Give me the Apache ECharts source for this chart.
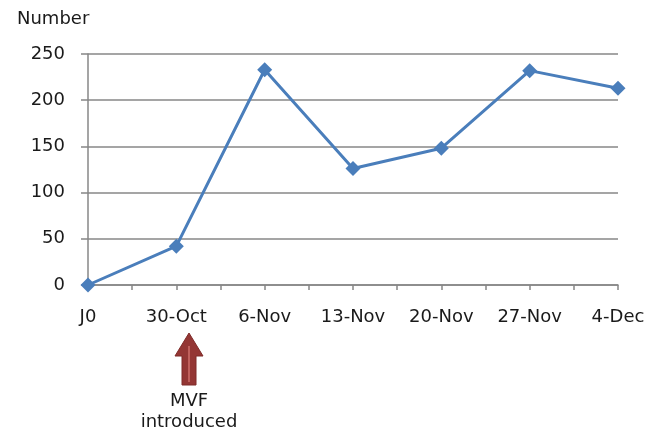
<!DOCTYPE html>
<html>
<head>
<meta charset="utf-8">
<script src="https://cdn.jsdelivr.net/npm/echarts@6/dist/echarts.min.js"></script>
<style>
  html, body { margin: 0; padding: 0; background: #fff; }
  #chart { width: 657px; height: 436px; }
</style>
</head>
<body>
<div id="chart"></div>
<script>
// Weekly counts, with MVF introduced on 30-Oct
const categories = ['J0', '30-Oct', '6-Nov', '13-Nov', '20-Nov', '27-Nov', '4-Dec'];
const counts = [0, 42, 233, 126, 148, 232, 213];
const yTicks = [0, 50, 100, 150, 200, 250];

const FONT = 'DejaVu Sans';
const AXIS_GREY = '#878787';

const chart = echarts.init(document.getElementById('chart'), null, { renderer: 'canvas' });

chart.setOption({
  animation: false,
  backgroundColor: '#ffffff',
  grid: { left: 88, right: 39, top: 54, bottom: 151, containLabel: false },
  xAxis: {
    type: 'value',
    min: 0,
    max: categories.length - 1,
    interval: 0.5,
    splitLine: { show: false },
    axisLine: { show: true, lineStyle: { color: AXIS_GREY, width: 1.5 } },
    axisTick: { show: true, inside: false, length: 5, lineStyle: { color: AXIS_GREY, width: 1.5 } },
    axisLabel: {
      margin: 23,
      color: '#1a1a1a',
      fontFamily: FONT,
      fontSize: 18,
      showMinLabel: true,
      showMaxLabel: true,
      formatter: (v) => Number.isInteger(v) ? categories[v] : ''
    }
  },
  yAxis: {
    type: 'value',
    min: yTicks[0],
    max: yTicks[yTicks.length - 1],
    interval: yTicks[1] - yTicks[0],
    name: 'Number',
    nameLocation: 'end',
    nameGap: 26,
    nameTextStyle: { color: '#1a1a1a', fontFamily: FONT, fontSize: 18, align: 'left', padding: [0, 0, 0, -71] },
    axisLine: { show: true, lineStyle: { color: AXIS_GREY, width: 1.5 } },
    axisTick: { show: true, inside: false, length: 7, lineStyle: { color: AXIS_GREY, width: 1.5 } },
    splitLine: { show: true, lineStyle: { color: AXIS_GREY, width: 1.5 } },
    axisLabel: { margin: 23, color: '#1a1a1a', fontFamily: FONT, fontSize: 18 }
  },
  series: [{
    type: 'line',
    data: counts.map((v, i) => [i, v]),
    symbol: 'diamond',
    symbolSize: 15,
    lineStyle: { color: '#4a7ebb', width: 3 },
    itemStyle: { color: '#4a7ebb' },
    z: 5
  }],
  graphic: [
    // arrow marking when MVF was introduced
    {
      type: 'polygon',
      shape: {
        points: [[189, 333], [203, 356], [196, 356], [196, 385], [182, 385], [182, 356], [175, 356]]
      },
      style: { fill: '#943634', stroke: '#7f2b29', lineWidth: 1 }
    },
    {
      type: 'rect',
      shape: { x: 188, y: 346, width: 2, height: 36 },
      style: { fill: '#c0605c' }
    },
    {
      type: 'text',
      style: {
        text: 'MVF\nintroduced',
        x: 189, y: 391,
        align: 'center', verticalAlign: 'top',
        fontFamily: FONT, fontSize: 18, lineHeight: 21,
        fill: '#1a1a1a'
      }
    }
  ]
});
</script>
</body>
</html>
